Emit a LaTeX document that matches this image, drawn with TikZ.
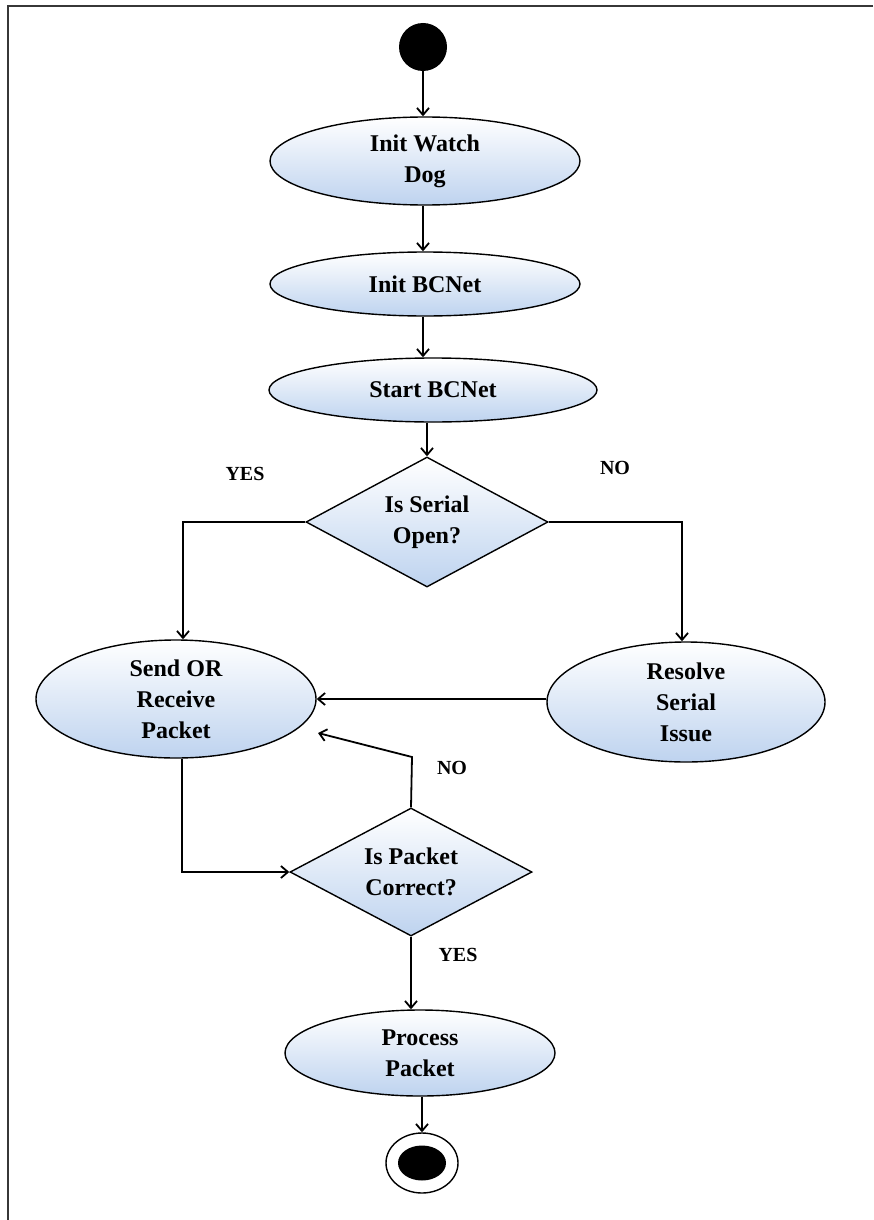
\documentclass[tikz,border=0pt]{standalone}
\usepackage{fontspec}
\setmainfont{Liberation Serif}
\usetikzlibrary{shapes.geometric,arrows.meta}
\definecolor{fillblue}{RGB}{190,211,239}
\definecolor{framegray}{RGB}{55,55,55}
\tikzset{
  act/.style={ellipse, draw=black, line width=1.4pt, top color=white, bottom color=fillblue,
    inner sep=0pt, align=center, font=\fontsize{24}{31}\selectfont\bfseries},
  decide/.style={diamond, draw=black, line width=1.4pt, top color=white, bottom color=fillblue,
    inner sep=0pt, aspect=1.9, align=center, font=\fontsize{24}{31}\selectfont\bfseries},
  lbl/.style={font=\fontsize{20}{24}\selectfont\bfseries, inner sep=0pt},
  arr/.style={line width=1.8pt, -{Straight Barb[length=7pt,width=12pt,line width=1.8pt]}},
  frame/.style={line width=2.6pt, draw=framegray}
}
\begin{document}
\begin{tikzpicture}[x=1pt,y=-1pt]
\useasboundingbox (0,0) rectangle (873,1220);
% page frame (top and left edges)
\draw[frame] (873,6) -- (8,6) -- (8,1220);

% initial node
\node[circle, fill=black, minimum size=48pt, inner sep=0pt] (start) at (423,47) {};

% activities
\node[act, minimum width=310pt, minimum height=88pt] (iwd) at (425,161) {Init Watch\\Dog};
\node[act, minimum width=310pt, minimum height=64pt] (ibc) at (425,284) {Init BCNet};
\node[act, minimum width=328pt, minimum height=64pt] (sbc) at (433,390) {Start BCNet};
\node[decide, minimum width=242pt, minimum height=130pt] (d1) at (427,522) {Is Serial\\Open?};
\node[act, minimum width=280pt, minimum height=118pt] (sr) at (176,699) {Send OR\\Receive\\Packet};
\node[act, minimum width=278pt, minimum height=120pt] (rs) at (686,702) {Resolve\\Serial\\Issue};
\node[decide, minimum width=242pt, minimum height=128pt] (d2) at (411,872) {Is Packet\\Correct?};
\node[act, minimum width=270pt, minimum height=86pt] (pp) at (420,1053) {Process\\Packet};

% final node
\node[ellipse, draw=black, line width=1.4pt, minimum width=72pt, minimum height=60pt, inner sep=0pt] (endo) at (422,1163) {};
\node[ellipse, fill=black, minimum width=48pt, minimum height=35pt, inner sep=0pt] (endi) at (422,1163) {};

% guard labels
\node[lbl] (yes1) at (245,474) {YES};
\node[lbl] (no1) at (615,468) {NO};
\node[lbl] (no2) at (452,768) {NO};
\node[lbl] (yes2) at (458,955) {YES};

% bends of the retry loop
\coordinate (loopbend) at (412,757);
\coordinate (loopend) at (318,733);

% control flow
\draw[arr] (start) -- (start |- iwd.north);
\draw[arr] (start |- iwd.south) -- (start |- ibc.north);
\draw[arr] (start |- ibc.south) -- (start |- sbc.north);
\draw[arr] (d1 |- sbc.south) -- (d1.north);
\draw[arr] (d1.west) -| ([xshift=7pt]sr.north);
\draw[arr] (d1.east) -| ([xshift=-4pt]rs.north);
\draw[arr] (rs.west |- sr.east) -- (sr.east);
\draw[arr] ([xshift=6pt]sr.south) |- (d2.west);
\draw[arr] (d2.north) -- (loopbend) -- (loopend);
\draw[arr] (d2.south) -- (d2.south |- pp.north);
\draw[arr] (endo |- pp.south) -- (endo.north);
\end{tikzpicture}
\end{document}
